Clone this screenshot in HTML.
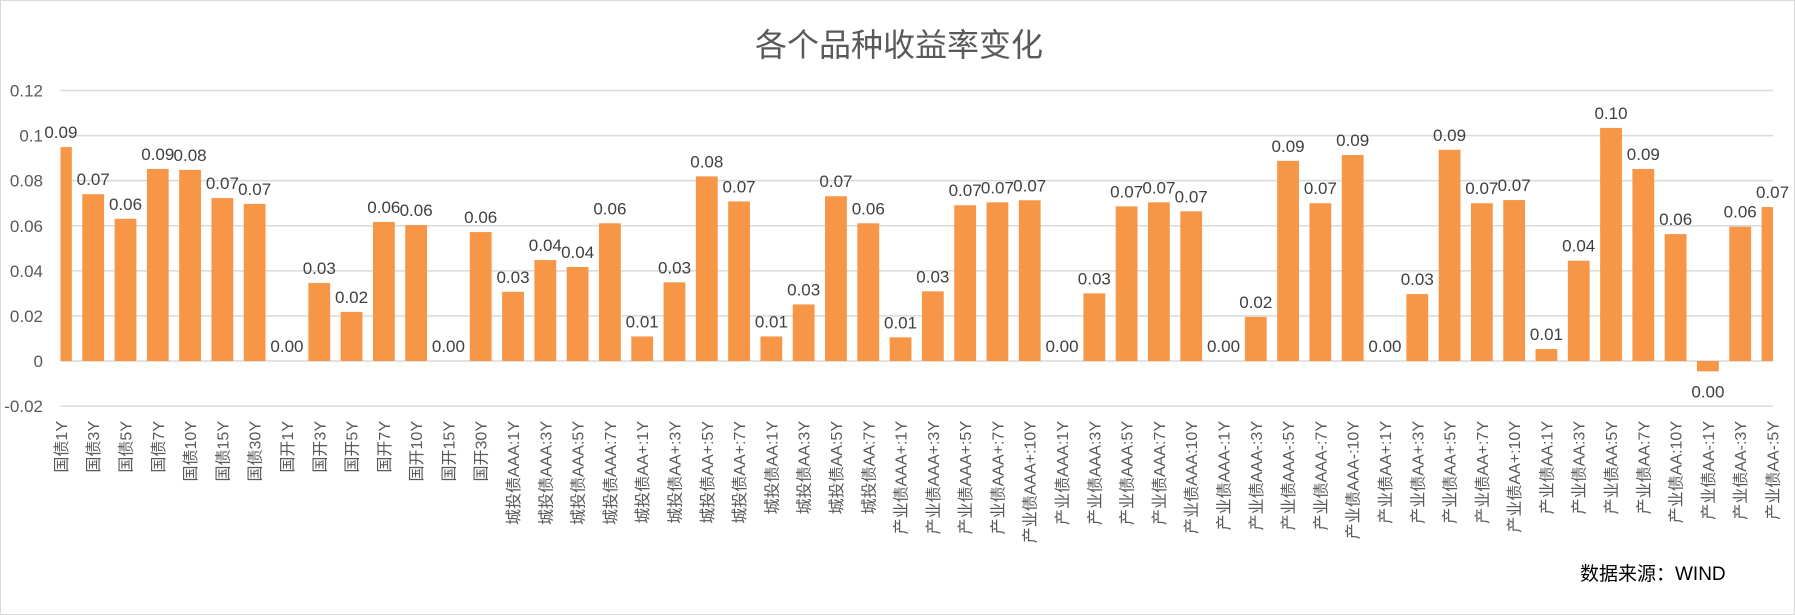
<!DOCTYPE html>
<html><head><meta charset="utf-8"><style>
html,body{margin:0;padding:0;background:#fff;}
svg{display:block;font-family:"Liberation Sans","Noto Sans CJK SC",sans-serif;}
</style></head><body>
<svg id="chart" width="1795" height="615" viewBox="0 0 1795 615" xmlns="http://www.w3.org/2000/svg">
<rect x="0.5" y="0.5" width="1794" height="614" fill="#fff" stroke="#d9d9d9"/>
<text x="899" y="56" text-anchor="middle" font-size="32" fill="#595959" font-family="Liberation Sans,Noto Sans CJK SC,sans-serif">各个品种收益率变化</text>
<text x="1580" y="580" font-size="19" fill="#000">数据来源：WIND</text>
<g id="grid"></g><g id="bars"></g><g id="labels"></g><g id="yticks"></g><g id="xticks"></g>
</svg>
<script>
const categories=["国债1Y","国债3Y","国债5Y","国债7Y","国债10Y","国债15Y","国债30Y","国开1Y","国开3Y","国开5Y","国开7Y","国开10Y","国开15Y","国开30Y","城投债AAA:1Y","城投债AAA:3Y","城投债AAA:5Y","城投债AAA:7Y","城投债AA+:1Y","城投债AA+:3Y","城投债AA+:5Y","城投债AA+:7Y","城投债AA:1Y","城投债AA:3Y","城投债AA:5Y","城投债AA:7Y","产业债AAA+:1Y","产业债AAA+:3Y","产业债AAA+:5Y","产业债AAA+:7Y","产业债AAA+:10Y","产业债AAA:1Y","产业债AAA:3Y","产业债AAA:5Y","产业债AAA:7Y","产业债AAA:10Y","产业债AAA-:1Y","产业债AAA-:3Y","产业债AAA-:5Y","产业债AAA-:7Y","产业债AAA-:10Y","产业债AA+:1Y","产业债AA+:3Y","产业债AA+:5Y","产业债AA+:7Y","产业债AA+:10Y","产业债AA:1Y","产业债AA:3Y","产业债AA:5Y","产业债AA:7Y","产业债AA:10Y","产业债AA-:1Y","产业债AA-:3Y","产业债AA-:5Y"];
const values=[0.0949,0.0740,0.0631,0.0852,0.0848,0.0723,0.0697,0,0.0346,0.0218,0.0617,0.0603,0,0.0572,0.0307,0.0448,0.0417,0.0611,0.0109,0.0349,0.0819,0.0708,0.0109,0.0251,0.0731,0.0611,0.0105,0.0309,0.0691,0.0704,0.0713,0,0.0300,0.0686,0.0704,0.0664,0,0.0196,0.0888,0.0700,0.0914,0,0.0297,0.0937,0.0700,0.0714,0.0053,0.0445,0.1034,0.0852,0.0563,-0.0046,0.0596,0.0683];
const yTicks=[0.12,0.1,0.08,0.06,0.04,0.02,0,-0.02];
const yTickLabels=["0.12","0.1","0.08","0.06","0.04","0.02","0","-0.02"];
const NS="http://www.w3.org/2000/svg";
const plotL=60.5,plotR=1773,y0=361,pxPerUnit=2254;
const step=(1772.5-60.9)/(categories.length-1);
function yScale(v){return y0-v*pxPerUnit;}
function xScale(i){return 60.9+i*step;}
function mk(tag,attrs,parent){const e=document.createElementNS(NS,tag);for(const k in attrs)e.setAttribute(k,attrs[k]);parent.appendChild(e);return e;}
const grid=document.getElementById('grid'),bars=document.getElementById('bars'),labels=document.getElementById('labels'),yt=document.getElementById('yticks'),xt=document.getElementById('xticks');
yTicks.forEach((t,i)=>{
  const l=mk('line',{x1:plotL,x2:plotR,y1:yScale(t),y2:yScale(t),stroke:'#d9d9d9','stroke-width':1.5},grid);
  
  
  const tx=mk('text',{x:43,y:yScale(t)+6,'text-anchor':'end','font-size':17,fill:'#595959'},yt);
  tx.textContent=yTickLabels[i];
  
  
});
const bw=21.8;
values.forEach((v,i)=>{
  const cx=xScale(i);
  let x1=Math.max(plotL,cx-bw/2),x2=Math.min(plotR,cx+bw/2);
  const top=Math.min(yScale(v),y0),h=Math.abs(yScale(v)-y0);
  const r=mk('rect',{x:x1,y:top,width:x2-x1,height:h,fill:'#f79646'},bars);
  
  
  let s=v.toFixed(2);if(s==="-0.00")s="0.00";
  const ly=v>=0?yScale(v)-9:yScale(v)+26;
  const lt=mk('text',{x:cx,y:ly,'text-anchor':'middle','font-size':17,fill:'#404040'},labels);
  lt.textContent=s;
  
  
  const ct=mk('text',{x:0,y:0,'text-anchor':'end','font-size':16,fill:'#595959',transform:'translate('+(cx+6)+',421) rotate(-90)'},xt);
  ct.textContent=categories[i];
  
  
});
</script>
</body></html>
